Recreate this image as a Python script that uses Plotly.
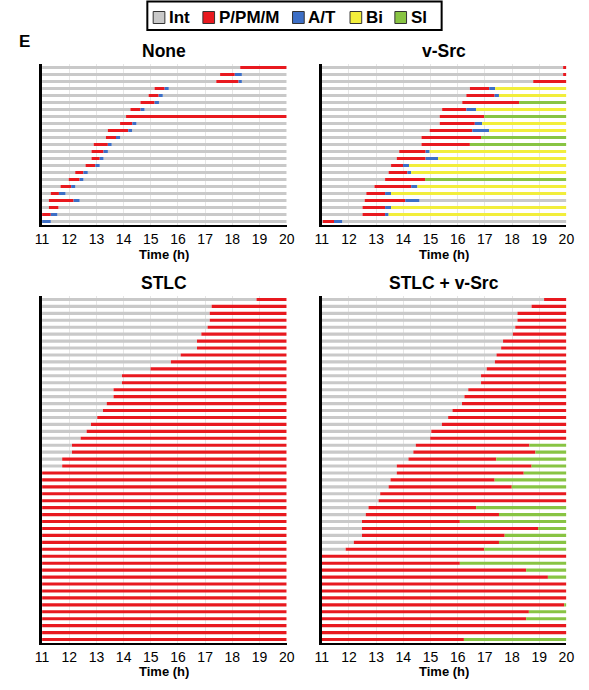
import plotly.graph_objects as go

TIME_START, TIME_END = 11, 20
STATES = ["Int", "P/PM/M", "A/T", "Bi", "Sl"]
COLORS = {"Int": "#c9c9c9", "P/PM/M": "#e8191f", "A/T": "#3d6fc6",
          "Bi": "#f2ee3b", "Sl": "#88c443"}
TICKS = [11, 12, 13, 14, 15, 16, 17, 18, 19, 20]

# ---------- Panel "None" (23 cells, top -> bottom) ----------
NONE_P_START = [18.29, 17.55, 17.41, 15.14, 14.92, 14.62, 14.25, 14.09, 13.87, 13.42, 13.35, 12.90,
                12.82, 12.82, 12.60, 12.22, 11.98, 11.68, 11.32, 11.25, 11.25, 11.00, 11.00]
NONE_P_END = [None, 18.09, 18.23, 15.51, 15.29, 15.14, 14.62, None, 14.32, 14.17, 13.72, 13.42,
              13.26, 13.12, 12.96, 12.52, 12.38, 12.07, 11.62, 12.16, 11.60, 11.32, 11.00]
NONE_AT_END = [None, 18.35, 18.35, 15.66, 15.44, 15.30, 14.77, None, 14.47, 14.31, 13.87, 13.56,
               13.42, 13.26, 13.12, 12.68, 12.52, 12.22, 11.86, 12.38, None, 11.56, 11.32]
NONE_AFTER = [None, "Int", "Int", "Int", "Int", "Int", "Int", None, "Int", "Int", "Int", "Int",
              "Int", "Int", "Int", "Int", "Int", "Int", "Int", "Int", "Int", "Int", "Int"]

# ---------- Panel "v-Src" (23 cells) ----------
VSRC_P_START = [19.88, 19.88, 18.78, 16.45, 16.32, 16.17, 15.43, 15.34, 15.34, 14.97, 14.67, 14.67,
                13.85, 13.76, 13.55, 13.46, 13.33, 12.94, 12.64, 12.58, 12.50, 12.50, 11.04]
VSRC_P_END = [None, None, None, 17.16, 17.36, 18.26, 16.32, 16.98, 16.63, 16.54, 16.86, 16.45,
              14.82, 14.82, 13.99, 14.15, 14.80, 14.29, 13.33, 14.07, 13.33, 13.33, 11.45]
VSRC_AT_END = [None, None, None, 17.38, 17.52, None, 16.68, None, 16.90, 17.16, None, None,
               14.97, 15.28, 14.21, 14.29, None, 14.52, 13.55, 14.59, 13.55, 13.46, 11.75]
VSRC_AFTER = [None, None, None, "Bi", "Bi", "Sl", "Bi", "Sl", "Bi", "Bi", "Sl", "Sl",
              "Bi", "Bi", "Bi", "Bi", "Sl", "Bi", "Bi", "Int", "Bi", "Bi", "Int"]

# ---------- Panel "STLC" (50 cells) ----------
STLC_P_START = [18.89, 17.24, 17.17, 17.17, 17.09, 16.86, 16.70, 16.70, 16.10, 15.74,
                14.99, 13.94, 13.94, 13.63, 13.63, 13.38, 13.24, 13.03, 12.80, 12.64,
                12.42, 12.10, 12.10, 11.74, 11.74, 11.00, 11.00, 11.00, 11.00, 11.00,
                11.00, 11.00, 11.00, 11.00, 11.00, 11.00, 11.00, 11.00, 11.00, 11.00,
                11.00, 11.00, 11.00, 11.00, 11.00, 11.00, 11.00, 11.00, 11.00, 11.00]

# ---------- Panel "STLC + v-Src" (50 cells) ----------
STLCV_P_START = [19.18, 18.72, 18.20, 18.20, 18.12, 18.03, 17.67, 17.60, 17.43, 17.37,
                 17.07, 16.86, 16.86, 16.39, 16.25, 16.16, 15.81, 15.65, 15.42, 15.03,
                 14.99, 14.46, 14.37, 14.19, 13.76, 13.76, 13.53, 13.46, 13.15, 13.09,
                 12.72, 12.62, 12.48, 12.48, 12.48, 12.18, 11.88, 11.00, 11.00, 11.00,
                 11.00, 11.00, 11.00, 11.00, 11.00, 11.00, 11.00, 11.00, 11.00, 11.00]
STLCV_P_END = [None, None, None, None, None, None, None, None, None, None,
               None, None, None, None, None, None, None, None, None, None,
               None, 18.64, 18.86, 17.42, 18.72, 18.43, 17.36, 17.99, None, None,
               16.68, 17.52, 16.08, 18.96, 17.73, 17.52, 16.98, None, 16.08, 18.52,
               19.32, None, None, None, 19.92, 18.62, 18.52, None, None, 16.23]


def segments(p_start, p_end=None, at_end=None, after=None):
    n = len(p_start)
    p_end = p_end or [None] * n
    at_end = at_end or [None] * n
    after = after or [("Sl" if e is not None else None) for e in p_end]
    segs = {s: ([], [], []) for s in STATES}  # rows, base, length

    def add(state, row, a, b):
        if b > a:
            segs[state][0].append(row)
            segs[state][1].append(a)
            segs[state][2].append(b - a)

    for i in range(n):
        add("Int", i, TIME_START, p_start[i])
        pe = p_end[i] if p_end[i] is not None else TIME_END
        add("P/PM/M", i, p_start[i], pe)
        end = pe
        if at_end[i] is not None:
            add("A/T", i, pe, at_end[i])
            end = at_end[i]
        if after[i] is not None:
            add(after[i], i, end, TIME_END)
    return segs, n


panels = [
    ("None", segments(NONE_P_START, NONE_P_END, NONE_AT_END, NONE_AFTER)),
    ("v-Src", segments(VSRC_P_START, VSRC_P_END, VSRC_AT_END, VSRC_AFTER)),
    ("STLC", segments(STLC_P_START)),
    ("STLC + v-Src", segments(STLCV_P_START, STLCV_P_END)),
]

W, H = 589, 690
X_DOMAINS = [(36 / W, 287 / W), (323 / W, 574 / W)]
Y_DOMAINS = [(1 - 225 / H, 1 - 64 / H), (1 - 643 / H, 1 - 296 / H)]
FONT = "Liberation Sans, Arial, Helvetica, sans-serif"


def px(x):
    return x / W


def py(y):
    return 1 - y / H


fig = go.Figure()
layout = dict(
    width=W, height=H, margin=dict(l=0, r=0, t=0, b=0),
    paper_bgcolor="white", plot_bgcolor="white", barmode="overlay",
    font=dict(family=FONT, color="black"), showlegend=False,
)
annotations = []
shapes = []
for k, (title, (segs, n)) in enumerate(panels):
    ax = "" if k == 0 else str(k + 1)
    col, row = k % 2, k // 2
    for s in STATES:
        rows, base, length = segs[s]
        if not rows:
            continue
        fig.add_trace(go.Bar(
            y=rows, x=length, base=base, orientation="h", name=s,
            marker=dict(color=COLORS[s], line=dict(width=0)),
            width=0.45, xaxis="x" + ax, yaxis="y" + ax, hoverinfo="skip"))
    layout["xaxis" + ax] = dict(
        domain=X_DOMAINS[col], anchor="y" + ax, range=[TIME_START, TIME_END],
        tickvals=TICKS, ticks="", showgrid=True, gridcolor="#e6e6e6", gridwidth=1,
        showline=True, linecolor="black", linewidth=2, zeroline=False,
        tickfont=dict(family=FONT, size=14, color="black"), fixedrange=True)
    layout["yaxis" + ax] = dict(
        domain=Y_DOMAINS[row], anchor="x" + ax, range=[n - 0.5, -0.5],
        showticklabels=False, ticks="", showgrid=False, zeroline=False,
        showline=True, linecolor="black", linewidth=2.5, fixedrange=True)
    cx = (X_DOMAINS[col][0] + X_DOMAINS[col][1]) / 2
    ty = py(51) if row == 0 else py(283)
    annotations.append(dict(text=title, x=cx, y=ty, xref="paper", yref="paper",
                            showarrow=False, xanchor="center", yanchor="middle",
                            font=dict(family=FONT, size=17.5, color="black", weight="bold")))
    tty = py(255) if row == 0 else py(671)
    annotations.append(dict(text="Time (h)", x=cx, y=tty, xref="paper", yref="paper",
                            showarrow=False, xanchor="center", yanchor="middle",
                            font=dict(family=FONT, size=13, color="black", weight="bold")))

annotations.append(dict(text="E", x=px(17.5), y=py(42), xref="paper", yref="paper",
                        showarrow=False, xanchor="center", yanchor="middle",
                        font=dict(family=FONT, size=17, color="black", weight="bold")))

# ---------- legend (drawn manually for the tight reference spacing) ----------
LEGEND_KEY_X = [150, 201, 293, 352, 398]  # left edge of each colour key (px)
shapes.append(dict(type="rect", xref="paper", yref="paper",
                   x0=px(144), x1=px(446), y0=py(30), y1=py(1.5),
                   line=dict(color="black", width=2), fillcolor="white"))
for s, kx in zip(STATES, LEGEND_KEY_X):
    shapes.append(dict(type="rect", xref="paper", yref="paper",
                       x0=px(kx), x1=px(kx + 12), y0=py(23.5), y1=py(11.5),
                       line=dict(color="#333333", width=1), fillcolor=COLORS[s]))
    annotations.append(dict(text=s, x=px(kx + 14), y=py(17.5), xref="paper", yref="paper",
                            showarrow=False, xanchor="left", yanchor="middle",
                            font=dict(family=FONT, size=17, color="black", weight="bold")))

layout["annotations"] = annotations
layout["shapes"] = shapes
fig.update_layout(**layout)
fig.write_html("out.html", config={"displayModeBar": False},
               post_script="document.body.style.margin='0';")
